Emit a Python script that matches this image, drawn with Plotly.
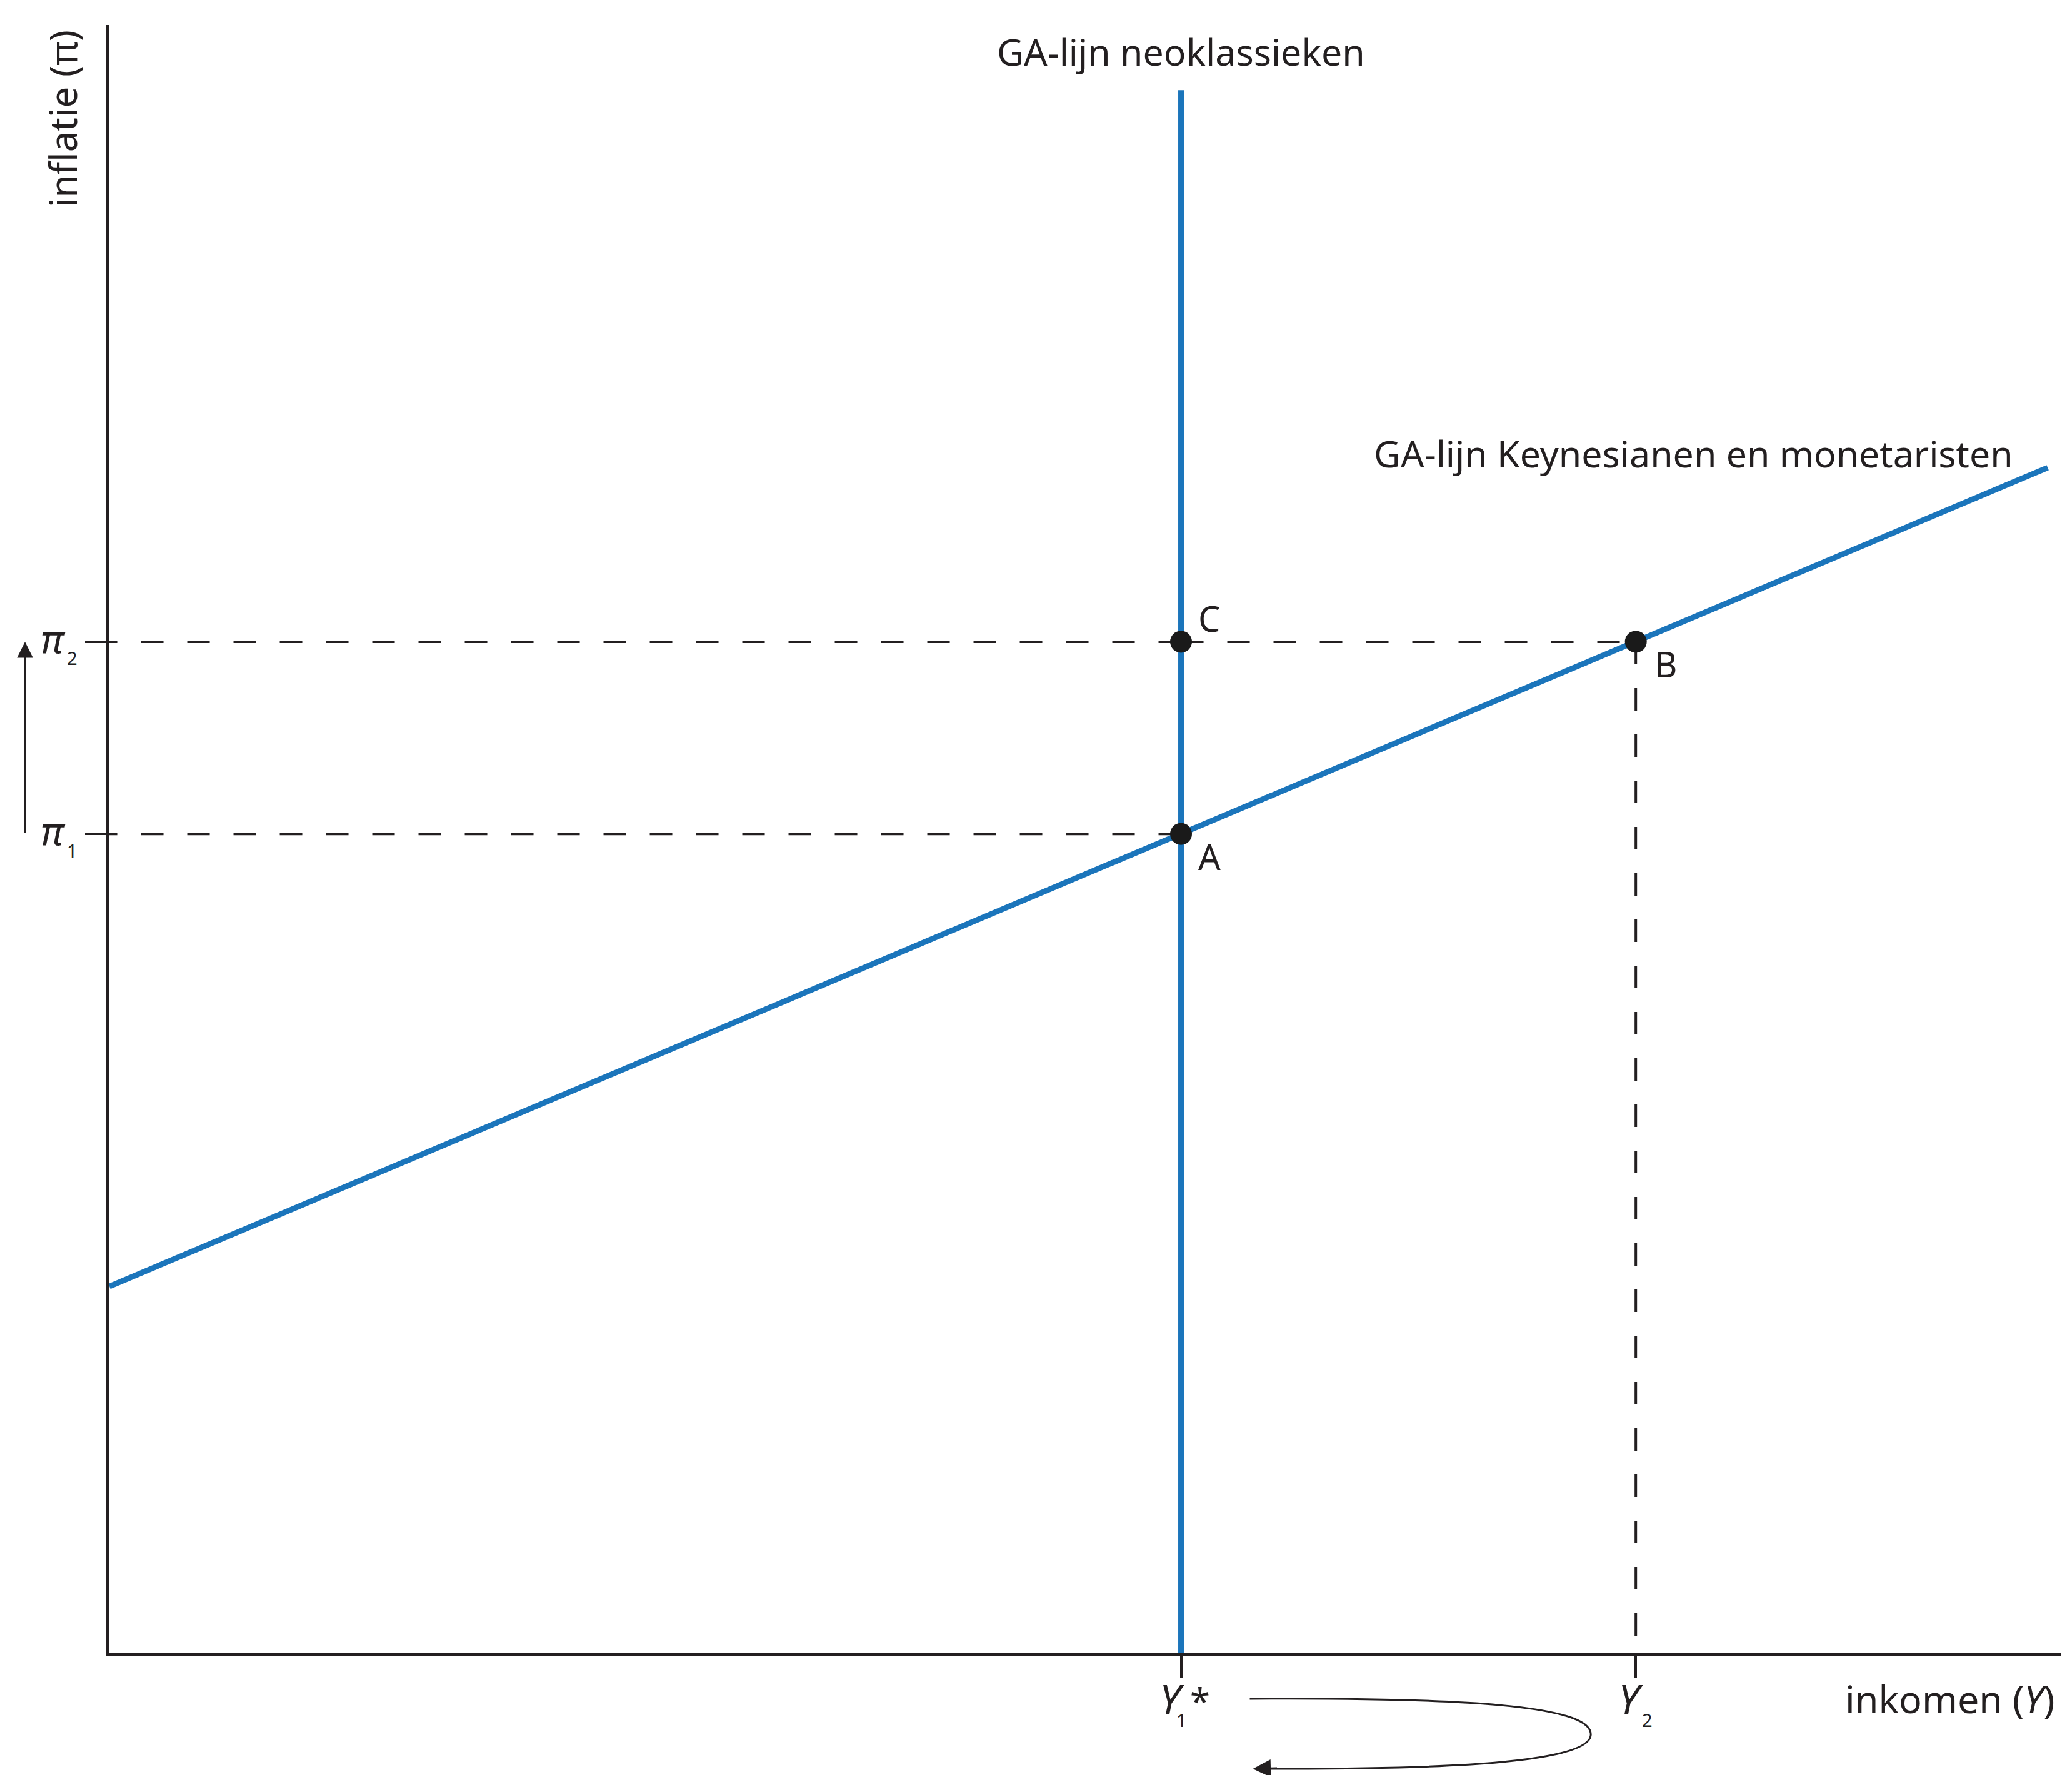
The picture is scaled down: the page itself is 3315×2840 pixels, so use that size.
import plotly.graph_objects as go

# ---------------- data (arbitrary units) ----------------
income_labels = ["1", "2"]          # subscripts of Y
income_vals = [5.49, 7.82]          # Y1*, Y2
infl_labels = ["1", "2"]            # subscripts of pi
infl_vals = [5.03, 6.21]            # pi1, pi2

keyn_x = [0.0, 9.93]                # GA-lijn Keynesianen en monetaristen
keyn_y = [2.25, 7.28]
neo_x = [5.49, 5.49]                # GA-lijn neoklassieken
neo_y = [0.0, 9.60]

point_names = ["A", "B", "C"]
point_x = [5.49, 7.82, 5.49]
point_y = [5.03, 6.21, 6.21]

# ---------------- layout constants ----------------
W, H = 3315, 2840
OFF = 8                       # default body margin of the html page
# plot area on screen: x 175..3298, y 40..2644
ML = 175 - OFF
MT = 40 - OFF
MR = W + OFF - 3298
MB = H + OFF - 2644
XR, YR = [0, 10], [0, 10]
PW, PH = W - ML - MR, H - MT - MB
SX0, SY1 = OFF + ML, OFF + MT + PH   # screen x of left edge, screen y of bottom edge

BLUE = "#1b75bb"
INK = "#231f20"
FONT = "Noto Sans"
DASH = "36px,38px"


def xpx(v):
    return SX0 + (v - XR[0]) / (XR[1] - XR[0]) * PW


def px2paper_x(p):
    return (p - SX0) / PW


def px2paper_y(p):
    return (SY1 - p) / PH


fig = go.Figure()

# dashed guide lines (drawn from the points toward the axes)
Y1, Y2 = income_vals
P1, P2 = infl_vals
guides = [
    ([Y1, XR[0]], [P1, P1]),
    ([Y1, XR[0]], [P2, P2]),
    ([Y1, Y2], [P2, P2]),
    ([Y2, Y2], [P2, YR[0]]),
]
for gx, gy in guides:
    fig.add_trace(go.Scatter(x=gx, y=gy, mode="lines",
                             line=dict(color=INK, width=4, dash=DASH),
                             hoverinfo="skip", showlegend=False))

# GA lines
fig.add_trace(go.Scatter(x=keyn_x, y=keyn_y, mode="lines",
                         line=dict(color=BLUE, width=9),
                         hoverinfo="skip", showlegend=False))
fig.add_trace(go.Scatter(x=neo_x, y=neo_y, mode="lines",
                         line=dict(color=BLUE, width=9),
                         hoverinfo="skip", showlegend=False))

# points
fig.add_trace(go.Scatter(x=point_x, y=point_y, mode="markers",
                         marker=dict(color="#1a1a1a", size=35),
                         hoverinfo="skip", showlegend=False, cliponaxis=False))

ann = []
tf = dict(family=FONT, color=INK)

# line labels
ann.append(dict(x=neo_x[1], y=neo_y[1], xref="x", yref="y",
                text="GA-lijn neoklassieken", showarrow=False,
                xanchor="center", yanchor="middle", yshift=62,
                font=dict(tf, size=59)))
ann.append(dict(x=keyn_x[1], y=keyn_y[1], xref="x", yref="y",
                text="GA-lijn Keynesianen en monetaristen", showarrow=False,
                xanchor="right", yanchor="middle", xshift=-53, yshift=23,
                font=dict(tf, size=59)))

# point labels
pshift = {"A": (45, -36), "B": (48, -35), "C": (45, 38)}
for n, px_, py_ in zip(point_names, point_x, point_y):
    sx, sy = pshift[n]
    ann.append(dict(x=px_, y=py_, xref="x", yref="y", text=n, showarrow=False,
                    xanchor="center", yanchor="middle", xshift=sx, yshift=sy,
                    font=dict(tf, size=56)))

# axis titles
ann.append(dict(x=px2paper_x(100), y=px2paper_y(190), xref="paper", yref="paper",
                text="inflatie (π)", textangle=-90, showarrow=False,
                xanchor="center", yanchor="middle", font=dict(tf, size=60)))
ann.append(dict(x=px2paper_x(3290), y=px2paper_y(2717), xref="paper", yref="paper",
                text="inkomen (<i>Y</i>)", showarrow=False,
                xanchor="right", yanchor="middle", font=dict(tf, size=61)))

# pi tick labels
for lab, v in zip(infl_labels, infl_vals):
    ann.append(dict(x=0, y=v, xref="paper", yref="y", text="<i>π</i>",
                    showarrow=False, xanchor="center", yanchor="middle",
                    xshift=-90, yshift=6, font=dict(tf, size=62)))
    ann.append(dict(x=0, y=v, xref="paper", yref="y", text=lab,
                    showarrow=False, xanchor="center", yanchor="middle",
                    xshift=-60, yshift=-26, font=dict(tf, size=29)))

# Y tick labels
yshift_main = -(2717 - SY1)
yshift_sub = -(2751 - SY1)
yoff = {"1": (-15, 1), "2": (-8, 18)}
for lab, v in zip(income_labels, income_vals):
    a, b = yoff[lab]
    ann.append(dict(x=v, y=0, xref="x", yref="paper", text="<i>Y</i>",
                    showarrow=False, xanchor="center", yanchor="middle",
                    xshift=a, yshift=yshift_main, font=dict(tf, size=66)))
    ann.append(dict(x=v, y=0, xref="x", yref="paper", text=lab,
                    showarrow=False, xanchor="center", yanchor="middle",
                    xshift=b, yshift=yshift_sub, font=dict(tf, size=29)))
ann.append(dict(x=Y1, y=0, xref="x", yref="paper", text="*",
                showarrow=False, xanchor="center", yanchor="middle",
                xshift=30, yshift=-(2721 - SY1), font=dict(tf, size=58)))

# upward arrow pi1 -> pi2 on the left
ann.append(dict(x=px2paper_x(40), y=P2, xref="paper", yref="y",
                ax=0, ay=P1, axref="pixel", ayref="y", text="",
                showarrow=True, arrowhead=2, arrowsize=1.7, arrowwidth=3,
                arrowcolor=INK, standoff=0))

# curved return arrow below the x axis
X1p, X2p = xpx(Y1), xpx(Y2)
pts = [
    (X1p + 110, 2718),
    (X1p + 450, 2716), (X2p - 72, 2728), (X2p - 72, 2775),
    (X2p - 72, 2818), (X1p + 450, 2831), (X1p + 140, 2830),
]
conv = [(px2paper_x(a), px2paper_y(b)) for a, b in pts]
path = "M {0[0]},{0[1]} C {1[0]},{1[1]} {2[0]},{2[1]} {3[0]},{3[1]} " \
       "C {4[0]},{4[1]} {5[0]},{5[1]} {6[0]},{6[1]}".format(*conv)
shapes = [dict(type="path", path=path, xref="paper", yref="paper",
               line=dict(color=INK, width=3))]
ann.append(dict(x=px2paper_x(X1p + 115), y=px2paper_y(2830),
                xref="paper", yref="paper", ax=40, ay=-1, text="",
                showarrow=True, arrowhead=2, arrowsize=1.9, arrowwidth=3,
                arrowcolor=INK, standoff=0))

fig.update_layout(
    width=W, height=H, autosize=False,
    margin=dict(l=ML, r=MR, t=MT, b=MB, pad=0),
    paper_bgcolor="white", plot_bgcolor="white",
    showlegend=False,
    annotations=ann, shapes=shapes,
    xaxis=dict(range=XR, showgrid=False, zeroline=False, showline=True,
               linecolor=INK, linewidth=6, ticks="outside",
               tickvals=income_vals, ticklen=35, tickwidth=4, tickcolor=INK,
               showticklabels=False, fixedrange=True),
    yaxis=dict(range=YR, showgrid=False, zeroline=False, showline=True,
               linecolor=INK, linewidth=6, ticks="outside",
               tickvals=infl_vals, ticklen=33, tickwidth=4, tickcolor=INK,
               showticklabels=False, fixedrange=True),
)

fig.write_html("out.html")
